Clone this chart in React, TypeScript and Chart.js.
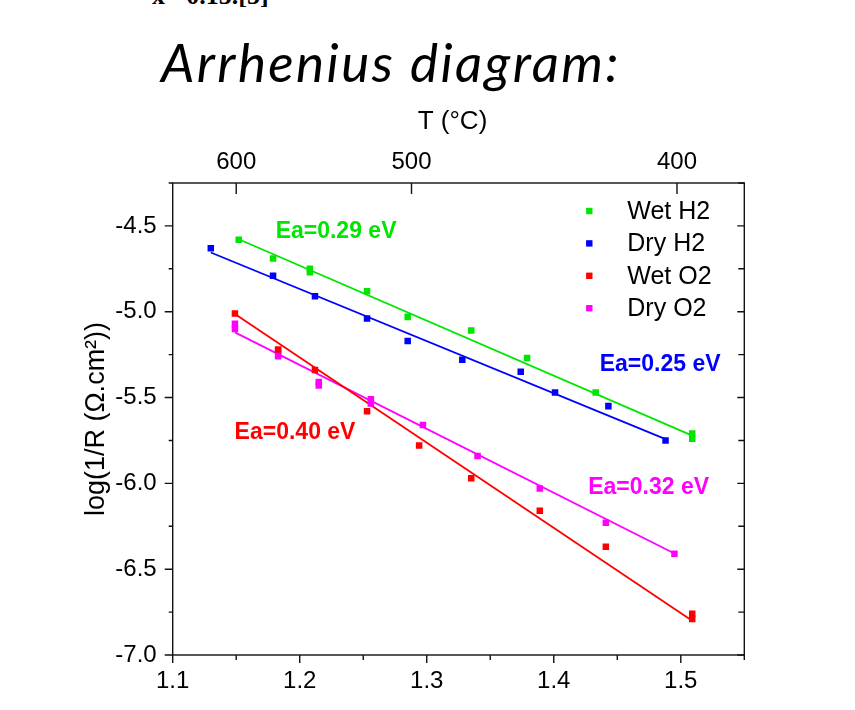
import React, { useEffect, useRef } from "react";
import { Chart, registerables } from "chart.js";

Chart.register(...registerables);

const FONT = "'Liberation Sans', Arial, Helvetica, sans-serif";

// ---- series ----
const SERIES_NAMES = ["Wet H2", "Dry H2", "Wet O2", "Dry O2"];
const SERIES_COLORS = ["#00e600", "#0000ff", "#ff0000", "#ff00ff"];

const WET_H2_X = [1.152, 1.179, 1.208, 1.208, 1.253, 1.285, 1.335, 1.379, 1.433, 1.509, 1.509];
const WET_H2_Y = [-4.58, -4.69, -4.75, -4.77, -4.88, -5.03, -5.11, -5.27, -5.47, -5.71, -5.74];

const DRY_H2_X = [1.130, 1.179, 1.212, 1.253, 1.285, 1.328, 1.374, 1.401, 1.443, 1.488];
const DRY_H2_Y = [-4.63, -4.79, -4.91, -5.04, -5.17, -5.28, -5.35, -5.47, -5.55, -5.75];

const WET_O2_X = [1.149, 1.183, 1.212, 1.253, 1.294, 1.335, 1.389, 1.441, 1.509, 1.509];
const WET_O2_Y = [-5.01, -5.22, -5.34, -5.58, -5.78, -5.97, -6.16, -6.37, -6.76, -6.79];

const DRY_O2_X = [1.149, 1.149, 1.183, 1.183, 1.215, 1.215, 1.256, 1.256, 1.297, 1.340, 1.389, 1.441, 1.495];
const DRY_O2_Y = [-5.07, -5.10, -5.23, -5.26, -5.41, -5.43, -5.51, -5.535, -5.66, -5.84, -6.03, -6.23, -6.41];

// ---- linear fits (end points) ----
const WET_H2_FIT_X = [1.152, 1.509];
const WET_H2_FIT_Y = [-4.578, -5.722];
const DRY_H2_FIT_X = [1.130, 1.488];
const DRY_H2_FIT_Y = [-4.655, -5.742];
const WET_O2_FIT_X = [1.149, 1.509];
const WET_O2_FIT_Y = [-5.013, -6.80];
const DRY_O2_FIT_X = [1.149, 1.495];
const DRY_O2_FIT_Y = [-5.12, -6.409];

// ---- annotations ----
const EA_TEXT = ["Ea=0.29 eV", "Ea=0.25 eV", "Ea=0.40 eV", "Ea=0.32 eV"];
const EA_SERIES = [0, 1, 2, 3];
const EA_X = [1.2286, 1.4837, 1.1963, 1.4747];
const EA_Y = [-4.535, -5.308, -5.703, -6.026];

// ---- axes ----
const X_MIN = 1.1;
const X_MAX = 1.55;
const X_TICKS = [1.1, 1.2, 1.3, 1.4, 1.5];
const X_MINOR = [1.15, 1.25, 1.35, 1.45, 1.55];
const Y_MIN = -7.0;
const Y_MAX = -4.25;
const Y_TICKS = [-7.0, -6.5, -6.0, -5.5, -5.0, -4.5];
const Y_MINOR = [-6.75, -6.25, -5.75, -5.25, -4.75, -4.25];
const T_TICK_LABELS = ["600", "500", "400"];
const T_TICK_POS = [1.150, 1.288, 1.497];

const X_TITLE_TOP = "T (°C)";
const Y_TITLE = "log(1/R (Ω.cm²))";

const toPts = (xs: number[], ys: number[]) => xs.map((x, i) => ({ x, y: ys[i] }));

const decorPlugin = {
  id: "decor",
  afterDraw(chart: any) {
    const { ctx, chartArea: a, scales } = chart;
    const sx = scales.x;
    const sy = scales.y;
    const sx2 = scales.x2;
    ctx.save();
    ctx.strokeStyle = "#111";
    ctx.lineWidth = 1.4;
    ctx.strokeRect(a.left, a.top, a.right - a.left, a.bottom - a.top);
    ctx.beginPath();
    const seg = (x1: number, y1: number, x2: number, y2: number) => {
      ctx.moveTo(x1, y1);
      ctx.lineTo(x2, y2);
    };
    X_TICKS.forEach((v) => {
      const p = sx.getPixelForValue(v);
      seg(p, a.bottom, p, a.bottom + 8);
    });
    X_MINOR.forEach((v) => {
      const p = sx.getPixelForValue(v);
      seg(p, a.bottom, p, a.bottom + 5);
    });
    Y_TICKS.forEach((v) => {
      const p = sy.getPixelForValue(v);
      seg(a.left - 8, p, a.left, p);
      seg(a.right - 7, p, a.right, p);
    });
    Y_MINOR.forEach((v) => {
      const p = sy.getPixelForValue(v);
      seg(a.left - 4, p, a.left, p);
      seg(a.right - 6, p, a.right, p);
    });
    T_TICK_POS.forEach((v) => {
      const p = sx2.getPixelForValue(v);
      seg(p, a.top, p, a.top + 11);
    });
    ctx.stroke();

    // top axis title
    ctx.fillStyle = "#000";
    ctx.font = `26px ${FONT}`;
    ctx.textAlign = "center";
    ctx.textBaseline = "middle";
    ctx.fillText(X_TITLE_TOP, (a.left + a.right) / 2 - 6, a.top - 61);

    // Ea annotations
    ctx.font = `bold 23px ${FONT}`;
    EA_TEXT.forEach((t, i) => {
      ctx.fillStyle = SERIES_COLORS[EA_SERIES[i]];
      ctx.fillText(t, sx.getPixelForValue(EA_X[i]), sy.getPixelForValue(EA_Y[i]));
    });

    // legend (inside plot, top right)
    ctx.font = `25px ${FONT}`;
    ctx.textAlign = "left";
    SERIES_NAMES.forEach((name, i) => {
      const cy = a.top + 28 + i * 32.4;
      const mx = a.right - 155;
      ctx.fillStyle = SERIES_COLORS[i];
      ctx.fillRect(mx - 3.2, cy - 3.2, 6.4, 6.4);
      ctx.fillStyle = "#000";
      ctx.fillText(name, a.right - 117, cy + 1);
    });
    ctx.restore();
  },
};

export default function App() {
  const ref = useRef<HTMLCanvasElement | null>(null);

  useEffect(() => {
    document.body.style.margin = "0";
    const canvas = ref.current;
    if (!canvas) return;

    const pointSets = [
      toPts(WET_H2_X, WET_H2_Y),
      toPts(DRY_H2_X, DRY_H2_Y),
      toPts(WET_O2_X, WET_O2_Y),
      toPts(DRY_O2_X, DRY_O2_Y),
    ];
    const fitSets = [
      toPts(WET_H2_FIT_X, WET_H2_FIT_Y),
      toPts(DRY_H2_FIT_X, DRY_H2_FIT_Y),
      toPts(WET_O2_FIT_X, WET_O2_FIT_Y),
      toPts(DRY_O2_FIT_X, DRY_O2_FIT_Y),
    ];

    const datasets: any[] = [];
    fitSets.forEach((d, i) => {
      datasets.push({
        label: SERIES_NAMES[i] + " fit",
        data: d,
        showLine: true,
        borderColor: SERIES_COLORS[i],
        borderWidth: 1.8,
        pointRadius: 0,
        fill: false,
        order: 2,
      });
    });
    pointSets.forEach((d, i) => {
      datasets.push({
        label: SERIES_NAMES[i],
        data: d,
        showLine: false,
        pointStyle: "rect",
        pointRadius: 4.6,
        pointBorderWidth: 0,
        borderWidth: 0,
        backgroundColor: SERIES_COLORS[i],
        borderColor: SERIES_COLORS[i],
        order: 1,
      });
    });

    const tickFont = { family: FONT, size: 24 };

    const chart = new Chart(canvas, {
      type: "scatter",
      data: { datasets },
      options: {
        animation: false,
        responsive: false,
        layout: { padding: { left: 0, right: 110.7, top: 0, bottom: 0 } },
        plugins: {
          legend: { display: false },
          tooltip: { enabled: false },
          title: { display: false },
        },
        scales: {
          x: {
            type: "linear",
            position: "bottom",
            min: X_MIN,
            max: X_MAX,
            grid: { display: false, drawTicks: false },
            border: { display: false },
            ticks: {
              font: tickFont,
              color: "#000",
              padding: 12,
              maxRotation: 0,
              autoSkip: false,
              callback: (v: any) => Number(v).toFixed(1),
            },
            afterBuildTicks: (s: any) => {
              s.ticks = X_TICKS.map((v) => ({ value: v }));
            },
            afterFit: (s: any) => {
              s.height = 55;
            },
          },
          x2: {
            type: "linear",
            position: "top",
            min: X_MIN,
            max: X_MAX,
            grid: { display: false, drawTicks: false },
            border: { display: false },
            ticks: {
              font: tickFont,
              color: "#000",
              padding: 6,
              maxRotation: 0,
              autoSkip: false,
              callback: (_v: any, i: number) => T_TICK_LABELS[i],
            },
            afterBuildTicks: (s: any) => {
              s.ticks = T_TICK_POS.map((v) => ({ value: v }));
            },
            afterFit: (s: any) => {
              s.height = 183;
            },
          },
          y: {
            type: "linear",
            position: "left",
            min: Y_MIN,
            max: Y_MAX,
            grid: { display: false, drawTicks: false },
            border: { display: false },
            ticks: {
              font: tickFont,
              color: "#000",
              padding: 16,
              autoSkip: false,
              callback: (v: any) => Number(v).toFixed(1),
            },
            afterBuildTicks: (s: any) => {
              s.ticks = Y_TICKS.map((v) => ({ value: v }));
            },
            afterFit: (s: any) => {
              s.width = 172.7;
            },
            title: {
              display: true,
              text: Y_TITLE,
              color: "#000",
              font: { family: FONT, size: 27 },
              padding: { top: 80.8, bottom: 0 },
            },
          },
        },
      } as any,
      plugins: [decorPlugin],
    });

    return () => {
      chart.destroy();
    };
  }, []);

  return (
    <div
      style={{
        position: "absolute",
        left: 0,
        top: 0,
        width: 855,
        height: 710,
        background: "#fff",
        overflow: "hidden",
      }}
    >
      <div
        style={{
          position: "absolute",
          left: 152,
          top: -17,
          font: "bold 26px 'Liberation Serif', 'Times New Roman', serif",
          lineHeight: "26px",
          color: "#000",
          whiteSpace: "nowrap",
        }}
      >
        x =0.15.[5]
      </div>
      <div
        style={{
          position: "absolute",
          left: 161,
          top: 30,
          font: "italic 53px Lato, 'Open Sans', sans-serif",
          letterSpacing: "2.4px",
          lineHeight: 1.2,
          color: "#000",
          whiteSpace: "nowrap",
        }}
      >
        Arrhenius diagram:
      </div>
      <canvas
        ref={ref}
        width={855}
        height={710}
        style={{ position: "absolute", left: 0, top: 0, display: "block" }}
      />
    </div>
  );
}
